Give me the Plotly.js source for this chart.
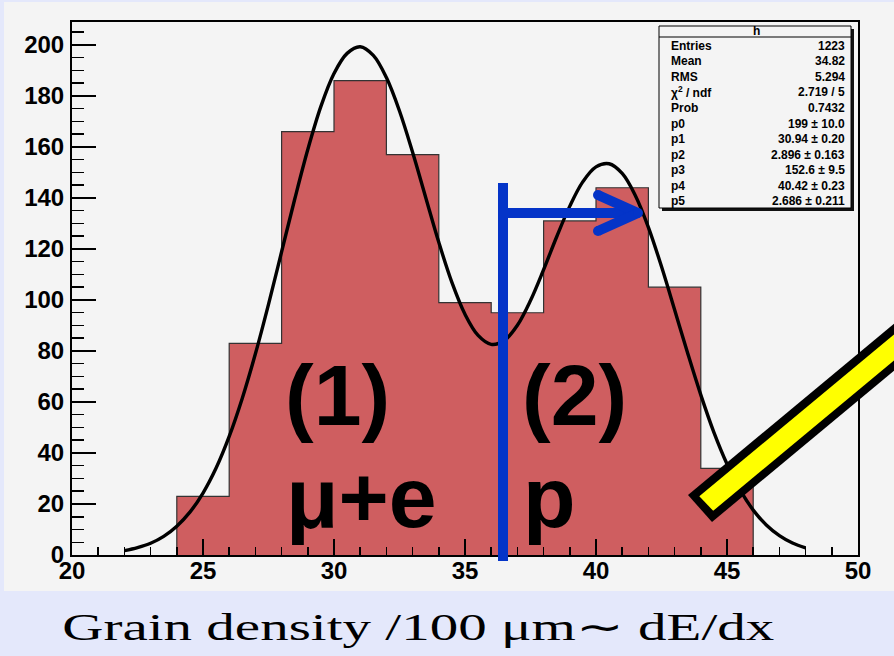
<!DOCTYPE html>
<html>
<head>
<meta charset="utf-8">
<script src="https://cdn.plot.ly/plotly-3.0.1.min.js"></script>
<style>html,body{margin:0;padding:0;background:#e4e8fb;}</style>
</head>
<body>
<div id="chart" style="width:894px;height:656px;"></div>
<script>
// Histogram: bin left edges (width 2) and counts
var binEdges = [24, 26, 28, 30, 32, 34, 36, 38, 40, 42, 44];
var binWidth = 2;
var counts = [23, 83, 166, 186, 157, 99, 95, 131, 144, 105, 34];

var fitX = [22, 22.5, 23, 23.5, 24, 24.5, 25, 25.5, 26, 26.5, 27, 27.5, 28, 28.5, 29, 29.5, 30, 30.5, 31, 31.5, 32, 32.5, 33, 33.5, 34, 34.5, 35, 35.5, 36, 36.5, 37, 37.5, 38, 38.5, 39, 39.5, 40, 40.5, 41, 41.5, 42, 42.5, 43, 43.5, 44, 44.5, 45, 45.5, 46, 46.5, 47, 47.5, 48];
var fitY = [1.7, 2.9, 4.6, 7.3, 11.3, 16.8, 24.3, 34.1, 46.5, 61.5, 78.9, 98.3, 118.9, 139.5, 159.0, 175.9, 188.8, 196.7, 199.3, 195.9, 187.2, 174.1, 157.9, 140.2, 122.6, 106.9, 94.4, 86.1, 82.6, 84.1, 90.1, 99.8, 111.9, 124.8, 136.8, 146.4, 152.2, 153.4, 149.6, 141.0, 128.5, 113.1, 96.2, 79.1, 62.8, 48.1, 35.7, 25.5, 17.6, 11.8, 7.6, 4.7, 2.8];

// Stats box
var statTitle = "h";
var statNames = ["Entries", "Mean", "RMS", "χ<sup>2</sup> / ndf", "Prob", "p0", "p1", "p2", "p3", "p4", "p5"];
var statValues = ["1223", "34.82", "5.294", "2.719 / 5", "0.7432", "199 ± 10.0", "30.94 ± 0.20", "2.896 ± 0.163", "152.6 ± 9.5", "40.42 ± 0.23", "2.686 ± 0.211"];

// Axis ticks / labels
var xTickVals = [20, 25, 30, 35, 40, 45, 50];
var yTickVals = [0, 20, 40, 60, 80, 100, 120, 140, 160, 180, 200];
var xAxisTitle = "Grain density /100 μm∼ dE/dx";
var regionLabels = ["(1)", "μ+e", "(2)", "p"];

// ---- build step outline ----
var hx = [binEdges[0]], hy = [0];
for (var i = 0; i < binEdges.length; i++) { hx.push(binEdges[i]); hy.push(counts[i]); }
var lastEdge = binEdges[binEdges.length - 1] + binWidth;
hx.push(lastEdge); hy.push(counts[counts.length - 1]);
hx.push(lastEdge); hy.push(0);

var L = 72, R = 36, T = 22, B = 101, W = 894, H = 656;
var pw = W - L - R, ph = H - T - B;
function px(x) { return (x - L) / pw; }
function py(y) { return (H - B - y) / ph; }

var traces = [
  {x: hx, y: hy, type: 'scatter', mode: 'lines', line: {shape: 'hv', color: '#333', width: 1.2},
   fill: 'tozeroy', fillcolor: '#cf5e60', hoverinfo: 'skip', showlegend: false},
  {x: fitX, y: fitY, type: 'scatter', mode: 'lines', line: {shape: 'spline', color: '#000', width: 3.4},
   hoverinfo: 'skip', showlegend: false}
];

var shapes = [];
// light panel
shapes.push({type: 'rect', xref: 'paper', yref: 'paper', x0: px(4), x1: px(900), y0: py(591), y1: py(2),
  fillcolor: '#f4f4f4', line: {width: 0}, layer: 'below'});
// stats box shadow and box
shapes.push({type: 'rect', xref: 'paper', yref: 'paper', x0: px(662), x1: px(854), y0: py(211), y1: py(29),
  fillcolor: '#111', line: {width: 0}});
shapes.push({type: 'rect', xref: 'paper', yref: 'paper', x0: px(659), x1: px(851), y0: py(208), y1: py(26),
  fillcolor: '#f4f4f4', line: {width: 1, color: '#000'}});
shapes.push({type: 'line', xref: 'paper', yref: 'paper', x0: px(659), x1: px(851), y0: py(37), y1: py(37),
  line: {width: 1, color: '#000'}});
// blue divider and arrow
var blue = '#0434c8';
shapes.push({type: 'line', xref: 'paper', yref: 'paper', x0: px(503), x1: px(503), y0: py(183), y1: py(561),
  line: {width: 10, color: blue}});
shapes.push({type: 'line', xref: 'paper', yref: 'paper', x0: px(503), x1: px(636), y0: py(213), y1: py(213),
  line: {width: 10, color: blue}});
shapes.push({type: 'line', xref: 'paper', yref: 'paper', x0: px(598), x1: px(638), y0: py(195), y1: py(213),
  line: {width: 10, color: blue}});
shapes.push({type: 'line', xref: 'paper', yref: 'paper', x0: px(598), x1: px(638), y0: py(231), y1: py(213),
  line: {width: 10, color: blue}});
[[598,195],[598,231],[638,213]].forEach(function(p){
  shapes.push({type: 'circle', xref: 'paper', yref: 'paper', x0: px(p[0]-5), x1: px(p[0]+5), y0: py(p[1]+5), y1: py(p[1]-5),
    fillcolor: blue, line: {width: 0}});
});
// yellow pencil
function poly(pts) {
  return pts.map(function(p, k){ return (k ? 'L' : 'M') + px(p[0]) + ',' + py(p[1]); }).join(' ') + ' Z';
}
var dx = 0.769, dy = -0.639;
var A = [688, 495], Bp = [712, 522], len = 400;
shapes.push({type: 'path', xref: 'paper', yref: 'paper', fillcolor: '#000', line: {width: 0},
  path: poly([A, Bp, [Bp[0] + dx*len, Bp[1] + dy*len], [A[0] + dx*len, A[1] + dy*len]])});
var Ai = [699.3, 496.3], Bi = [713.2, 510.8];
shapes.push({type: 'path', xref: 'paper', yref: 'paper', fillcolor: '#ffff00', line: {width: 0},
  path: poly([Ai, Bi, [Bi[0] + dx*len, Bi[1] + dy*len], [Ai[0] + dx*len, Ai[1] + dy*len]])});

var annotations = [];
var sFont = {family: 'Liberation Sans, Arial, sans-serif', size: 12, color: '#000', weight: 'bold'};
annotations.push({xref: 'paper', yref: 'paper', x: px(756), y: py(31), text: statTitle, showarrow: false,
  xanchor: 'center', yanchor: 'middle', font: sFont});
for (var k = 0; k < statNames.length; k++) {
  var yy = 46 + k * 15.5;
  annotations.push({xref: 'paper', yref: 'paper', x: px(669), y: py(yy), text: statNames[k], showarrow: false,
    xanchor: 'left', yanchor: 'middle', font: sFont});
  annotations.push({xref: 'paper', yref: 'paper', x: px(847), y: py(yy), text: statValues[k], showarrow: false,
    xanchor: 'right', yanchor: 'middle', font: sFont});
}
var bigFont = {family: 'Liberation Sans, Arial, sans-serif', size: 86, color: '#000', weight: 'bold'};
annotations.push({xref: 'paper', yref: 'paper', x: px(337), y: py(395), text: regionLabels[0], showarrow: false, xanchor: 'center', yanchor: 'middle', font: bigFont});
annotations.push({xref: 'paper', yref: 'paper', x: px(361), y: py(497), text: regionLabels[1], showarrow: false, xanchor: 'center', yanchor: 'middle', font: bigFont});
annotations.push({xref: 'paper', yref: 'paper', x: px(574), y: py(395), text: regionLabels[2], showarrow: false, xanchor: 'center', yanchor: 'middle', font: bigFont});
annotations.push({xref: 'paper', yref: 'paper', x: px(549), y: py(497), text: regionLabels[3], showarrow: false, xanchor: 'center', yanchor: 'middle', font: bigFont});
annotations.push({xref: 'paper', yref: 'paper', x: px(418), y: py(627), text: xAxisTitle, showarrow: false,
  xanchor: 'center', yanchor: 'middle', font: {family: 'Liberation Serif, Times New Roman, serif', size: 38, color: '#000'}});

var tickFont = {family: 'Liberation Sans, Arial, sans-serif', size: 24, color: '#000', weight: 'bold'};
var layout = {
  width: W, height: H,
  margin: {l: L, r: R, t: T, b: B, pad: 0},
  paper_bgcolor: '#e4e8fb', plot_bgcolor: '#f4f4f4',
  showlegend: false,
  xaxis: {range: [20, 50], tickmode: 'array', tickvals: xTickVals, ticktext: xTickVals.map(String),
    ticks: 'inside', ticklen: 16, tickwidth: 1.5, tickcolor: '#000',
    minor: {dtick: 1, tick0: 20, ticks: 'inside', ticklen: 8, tickwidth: 1.5, tickcolor: '#000', showgrid: false},
    showline: true, linecolor: '#000', linewidth: 2, mirror: true, showgrid: false, zeroline: false,
    tickfont: tickFont, ticklabelstandoff: -7},
  yaxis: {range: [0, 209], tickmode: 'array', tickvals: yTickVals, ticktext: yTickVals.map(String),
    ticks: 'inside', ticklen: 24, tickwidth: 1.5, tickcolor: '#000',
    minor: {dtick: 5, tick0: 0, ticks: 'inside', ticklen: 12, tickwidth: 1.5, tickcolor: '#000', showgrid: false},
    showline: true, linecolor: '#000', linewidth: 2, mirror: true, showgrid: false, zeroline: false,
    tickfont: tickFont, ticklabelstandoff: 1},
  shapes: shapes,
  annotations: annotations
};
Plotly.newPlot('chart', traces, layout, {displayModeBar: false, staticPlot: true}).then(function(gd){
  // widen the caption to the reference width (the slide is stretched horizontally); stays real text
  var texts = gd.querySelectorAll('.annotation-text');
  texts.forEach(function(t){
    if (t.textContent === xAxisTitle) {
      t.setAttribute('textLength', '712');
      t.setAttribute('lengthAdjust', 'spacingAndGlyphs');
    }
  });
});
</script>
</body>
</html>
